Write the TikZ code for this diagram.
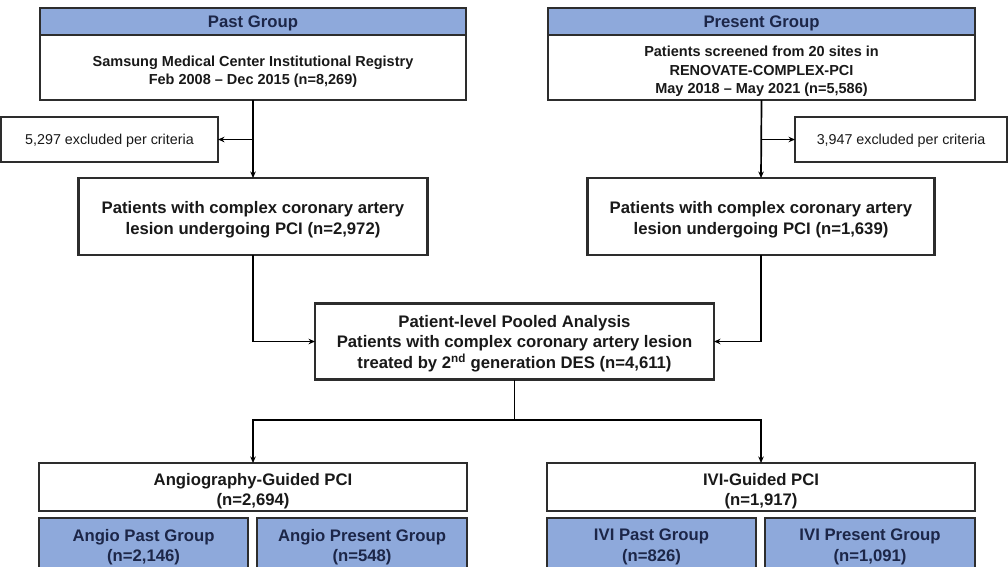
\documentclass[tikz,border=0pt]{standalone}
\usepackage{fontspec}
\setmainfont{Liberation Sans}
\usetikzlibrary{arrows.meta}
\definecolor{hdrblue}{RGB}{142,169,219}
\definecolor{navy}{RGB}{28,38,72}
\definecolor{txt}{RGB}{25,25,25}
\definecolor{edge}{RGB}{45,45,45}
\tikzset{
  box/.style={draw=edge, line width=2.1pt, fill=white, inner sep=0pt, outer sep=0pt},
  hdr/.style={box, fill=hdrblue},
  tx/.style={inner sep=0pt, align=center, text=txt},
  htx/.style={tx, text=navy},
  bigtxt/.style={font=\bfseries\fontsize{16.7}{20.5}\selectfont},
  midtxt/.style={font=\bfseries\fontsize{14.5}{18.5}\selectfont},
  smalltxt/.style={font=\fontsize{14.3}{17}\selectfont},
  arr/.style={draw=black, line width=1.7pt, -{Stealth[length=6.5pt,width=5.5pt]}},
  ln/.style={draw=black, line width=1.7pt}
}
\begin{document}
\begin{tikzpicture}[x=1pt,y=-1pt]
\useasboundingbox (0,0) rectangle (1008,566);
% top group boxes
\node[hdr, minimum width=426pt, minimum height=27pt] (pastH) at (253,21.5) {};
\node[htx, bigtxt] (pastHt) at ([yshift=-2pt]pastH.center) {Past Group};
\node[box, minimum width=426pt, minimum height=65pt] (pastB) at (253,67.5) {};
\node[tx, midtxt] (pastBt) at ([yshift=-4pt]pastB.center) {Samsung Medical Center Institutional Registry\\Feb 2008 -- Dec 2015 (n=8,269)};
\node[hdr, minimum width=427pt, minimum height=27pt] (presH) at (761.5,21.5) {};
\node[htx, bigtxt] (presHt) at ([yshift=-2pt]presH.center) {Present Group};
\node[box, minimum width=427pt, minimum height=65pt] (presB) at (761.5,67.5) {};
\node[tx, midtxt] (presBt) at ([yshift=-4pt]presB.center) {Patients screened from 20 sites in\\RENOVATE-COMPLEX-PCI\\May 2018 -- May 2021 (n=5,586)};
% excluded
\node[box, minimum width=217pt, minimum height=45pt] (exclL) at (109.5,139.5) {};
\node[tx, smalltxt] (exclLt) at ([yshift=-1pt]exclL.center) {5,297 excluded per criteria};
\node[box, minimum width=212pt, minimum height=45pt] (exclR) at (901,139.5) {};
\node[tx, smalltxt] (exclRt) at ([yshift=-1pt]exclR.center) {3,947 excluded per criteria};
% complex lesion boxes
\node[box, minimum width=349pt, minimum height=77pt] (pastC) at (253,216.5) {};
\node[tx, bigtxt] (pastCt) at ([yshift=-3pt]pastC.center) {Patients with complex coronary artery\\lesion undergoing PCI (n=2,972)};
\node[box, minimum width=347pt, minimum height=77pt] (presC) at (761,216.5) {};
\node[tx, bigtxt] (presCt) at ([yshift=-3pt]presC.center) {Patients with complex coronary artery\\lesion undergoing PCI (n=1,639)};
% pooled
\node[box, minimum width=399pt, minimum height=76pt] (pooled) at (514.5,341.5) {};
\node[tx, bigtxt] (pooledt) at ([yshift=-2pt]pooled.center) {Patient-level Pooled Analysis\\Patients with complex coronary artery lesion\\treated by 2\textsuperscript{nd} generation DES (n=4,611)};
% guided
\node[box, minimum width=428pt, minimum height=48pt] (angio) at (253,487) {};
\node[tx, bigtxt] (angiot) at ([yshift=-4pt]angio.center) {Angiography-Guided PCI\\(n=2,694)};
\node[box, minimum width=428pt, minimum height=48pt] (ivi) at (761,487) {};
\node[tx, bigtxt] (ivit) at ([yshift=-4pt]ivi.center) {IVI-Guided PCI\\(n=1,917)};
% subgroups
\node[hdr, minimum width=209pt, minimum height=52pt] (angioPast) at (143.5,544) {};
\node[htx, bigtxt] (angioPastt) at ([yshift=-3pt]angioPast.center) {Angio Past Group\\(n=2,146)};
\node[hdr, minimum width=210pt, minimum height=52pt] (angioPres) at (362,544) {};
\node[htx, bigtxt] (angioPrest) at ([yshift=-3pt]angioPres.center) {Angio Present Group\\(n=548)};
\node[hdr, minimum width=209pt, minimum height=52pt] (iviPast) at (651.5,544) {};
\node[htx, bigtxt] (iviPastt) at ([yshift=-3pt]iviPast.center) {IVI Past Group\\(n=826)};
\node[hdr, minimum width=210pt, minimum height=52pt] (iviPres) at (870,544) {};
\node[htx, bigtxt] (iviPrest) at ([yshift=-3pt]iviPres.center) {IVI Present Group\\(n=1,091)};
% connectors
\coordinate (brL) at (253,139.5);
\coordinate (brR) at (761,139.5);
\draw[arr] (pastB.south) -- (pastC.north);
\draw[arr] (brL) -- (exclL.east);
\draw[arr] (presB.south) -- (presC.north);
\draw[arr] (brR) -- (exclR.west);
\draw[arr] (pastC.south) |- (pooled.west);
\draw[arr] (presC.south) |- (pooled.east);
\coordinate (split) at (514.5,420);
\draw[ln] (pooled.south) -- (split);
\draw[arr] (split) -| (angio.north);
\draw[arr] (split) -| (ivi.north);
\end{tikzpicture}
\end{document}
